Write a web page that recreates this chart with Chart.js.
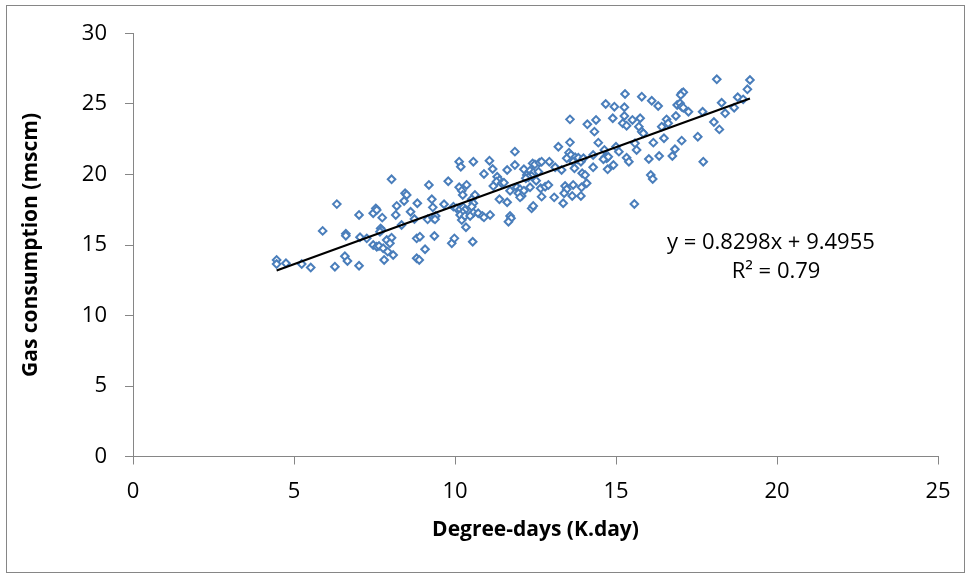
<!DOCTYPE html>
<html>
<head>
<meta charset="utf-8">
<script src="https://cdn.jsdelivr.net/npm/chart.js@4.4.1/dist/chart.umd.min.js"></script>
<style>
  html, body { margin: 0; padding: 0; background: #fff; }
  canvas { display: block; }
</style>
</head>
<body>
<canvas id="chart" width="971" height="578"></canvas>
<script>
// degree-days (K.day) of each observed day
const degreeDays = [
  4.46, 4.46, 4.75, 5.24, 5.52, 5.89, 6.27, 6.33, 6.58, 6.61, 6.61, 6.66,
  8.03, 9.19, 9.79, 8.45, 8.50, 8.42, 8.19, 8.83, 9.28, 9.31, 9.66, 7.02,
  7.46, 7.54, 7.57, 7.74, 8.16, 8.62, 8.74, 9.15, 9.33, 9.40, 9.38, 7.69,
  7.72, 7.67, 8.34, 7.05, 7.26, 7.46, 7.57, 7.64, 7.77, 7.88, 8.03, 7.98,
  7.91, 8.08, 7.80, 7.02, 8.81, 8.91, 9.36, 9.07, 8.81, 8.89, 9.90, 9.98,
  11.86, 10.13, 10.18, 10.57, 11.07, 11.17, 10.90, 11.62, 11.86, 12.14, 12.41, 12.48,
  12.62, 12.69, 12.93, 12.33, 12.43, 12.59, 12.23, 12.38, 12.28, 12.20, 12.52, 11.31,
  11.38, 11.29, 11.45, 11.52, 11.19, 11.71, 11.92, 12.02, 12.14, 12.33, 12.66, 12.80,
  12.90, 11.97, 12.07, 12.02, 12.69, 11.38, 11.62, 12.38, 12.43, 10.13, 10.21, 10.24,
  10.36, 10.62, 10.52, 10.57, 9.95, 10.05, 10.16, 10.26, 10.31, 10.24, 10.16, 10.21,
  10.31, 10.52, 10.57, 10.47, 10.72, 10.85, 10.90, 11.09, 11.71, 11.74, 11.66, 10.34,
  10.55,
  15.28, 15.80, 14.68, 14.95, 15.26, 15.26, 14.90, 15.21, 15.33, 15.51, 15.75, 15.71,
  15.80, 15.85, 13.57, 14.11, 14.38, 14.33, 13.57, 13.21, 14.45, 13.54, 13.60, 13.47,
  13.73, 13.80, 13.83, 13.67, 13.91, 13.99, 14.29, 14.64, 14.66, 14.71, 14.61, 14.76,
  15.00, 15.09, 15.33, 15.40, 15.59, 15.64, 14.29, 14.74, 14.92, 13.11, 13.31, 13.71,
  13.95, 14.04, 13.42, 13.47, 13.39, 13.67, 13.93, 14.09, 13.91, 13.64, 13.08, 13.36,
  15.57,
  18.13, 19.16, 19.08, 17.04, 17.09, 17.01, 16.11, 16.31, 16.90, 16.99, 17.04, 17.09,
  17.25, 16.86, 17.69, 18.28, 18.39, 18.04, 18.21, 18.67, 18.78, 18.95, 16.57, 16.62,
  16.42, 16.16, 16.49, 17.04, 17.54, 16.83, 16.75, 16.34, 16.02, 17.71, 16.08, 16.14
];

// gas consumption (mscm) for the same days
const gasUse = [
  13.94, 13.65, 13.70, 13.65, 13.40, 16.00, 13.46, 17.90, 14.20, 15.80, 15.66, 13.87,
  19.66, 19.26, 19.52, 18.67, 18.55, 18.12, 17.77, 17.96, 18.24, 17.67, 17.89, 17.13,
  17.25, 17.60, 17.48, 16.94, 17.13, 17.36, 16.84, 16.82, 16.89, 17.06, 16.82, 16.18,
  16.06, 15.94, 16.42, 15.55, 15.47, 15.00, 14.88, 14.93, 14.77, 15.35, 15.52, 15.12,
  14.53, 14.29, 13.94, 13.53, 15.47, 15.59, 15.64, 14.70, 14.06, 13.94, 15.12, 15.47,
  21.62, 20.91, 20.55, 20.91, 20.98, 20.39, 20.04, 20.32, 20.67, 20.37, 20.79, 20.72,
  20.84, 20.91, 20.91, 20.27, 20.13, 20.20, 19.96, 19.89, 19.80, 19.73, 19.56, 19.84,
  19.61, 19.49, 19.38, 19.42, 19.18, 18.85, 19.09, 18.95, 18.85, 19.09, 19.02, 19.13,
  19.25, 18.67, 18.48, 18.38, 18.43, 18.24, 18.03, 17.60, 17.77, 19.09, 18.85, 18.55,
  19.26, 18.55, 18.24, 17.96, 17.72, 17.60, 17.53, 17.67, 17.48, 17.29, 17.13, 16.77,
  17.06, 17.72, 17.29, 17.06, 17.25, 17.06, 16.96, 17.13, 17.06, 16.90, 16.65, 16.26,
  15.23,
  25.71, 25.52, 25.00, 24.81, 24.77, 24.15, 23.99, 23.63, 23.46, 23.87, 23.99, 23.39,
  23.04, 22.92, 23.91, 23.56, 23.87, 23.04, 22.28, 21.97, 22.26, 21.55, 21.38, 21.15,
  21.22, 21.08, 21.19, 20.91, 20.91, 21.15, 21.38, 21.74, 21.22, 21.15, 21.08, 21.26,
  21.97, 21.62, 21.19, 20.91, 22.21, 21.74, 20.51, 20.37, 20.67, 20.51, 20.32, 20.44,
  20.09, 19.96, 19.18, 18.95, 18.67, 19.26, 19.09, 19.38, 18.48, 18.48, 18.38, 17.96,
  17.91,
  26.75, 26.70, 26.04, 25.76, 25.83, 25.64, 25.23, 24.86, 24.93, 25.05, 24.81, 24.74,
  24.45, 24.15, 24.45, 25.09, 24.34, 23.72, 23.20, 24.74, 25.48, 25.33, 23.91, 23.63,
  23.39, 22.26, 22.57, 22.40, 22.68, 21.79, 21.31, 21.31, 21.10, 20.91, 19.96, 19.68
];

// Excel linear trendline shown on the chart
const slope = 0.8298;
const intercept = 9.4955;
const rSquared = 0.79;

const xTicks = [0, 5, 10, 15, 20, 25];
const yTicks = [0, 5, 10, 15, 20, 25, 30];

const points = degreeDays.map((d, i) => ({ x: d, y: gasUse[i] }));
const xMin = Math.min(...degreeDays);
const xMax = Math.max(...degreeDays);
const trend = [xMin, xMax].map(v => ({ x: v, y: slope * v + intercept }));

const font = '"Open Sans", "Liberation Sans", sans-serif';
const axisGray = '#868686';

// frame round the whole chart + equation text
const extras = {
  id: 'extras',
  afterDraw(chart) {
    const { ctx, scales: { x, y } } = chart;
    ctx.save();
    ctx.strokeStyle = axisGray;
    ctx.lineWidth = 1;
    ctx.strokeRect(6.5, 5.5, 958, 567);
    ctx.fillStyle = '#000';
    ctx.font = '22px ' + font;
    ctx.textAlign = 'center';
    ctx.textBaseline = 'middle';
    ctx.fillText('y = ' + slope + 'x + ' + intercept, x.getPixelForValue(19.81), y.getPixelForValue(15.14));
    ctx.fillText('R² = ' + rSquared, x.getPixelForValue(19.97), y.getPixelForValue(13.08));
    ctx.restore();
  }
};

const ctx = document.getElementById('chart').getContext('2d');

new Chart(ctx, {
  type: 'scatter',
  data: {
    datasets: [
      {
        label: 'Linear trend',
        data: trend,
        showLine: true,
        borderColor: '#000',
        borderWidth: 2.2,
        pointRadius: 0
      },
      {
        label: 'Gas consumption',
        data: points,
        pointStyle: 'rectRot',
        pointRadius: 3.8,
        borderWidth: 2,
        borderColor: '#4a7ebb',
        backgroundColor: '#fff'
      }
    ]
  },
  options: {
    responsive: false,
    animation: false,
    devicePixelRatio: 1,
    layout: { padding: { left: 18, top: 33.5, right: 33, bottom: 35.5 } },
    plugins: { legend: { display: false }, tooltip: { enabled: false } },
    scales: {
      x: {
        type: 'linear',
        min: xTicks[0],
        max: xTicks[xTicks.length - 1],
        afterBuildTicks: s => { s.ticks = xTicks.map(v => ({ value: v })); },
        afterFit: s => { s.height = 86; },
        ticks: { color: '#000', font: { family: font, size: 22 }, padding: 14 },
        grid: { drawOnChartArea: false, drawTicks: true, tickLength: 8, color: axisGray },
        border: { color: axisGray },
        title: {
          display: true,
          text: 'Degree-days (K.day)',
          color: '#000',
          font: { family: font, size: 21, weight: 'bold' },
          padding: 0
        }
      },
      y: {
        type: 'linear',
        min: yTicks[0],
        max: yTicks[yTicks.length - 1],
        afterBuildTicks: s => { s.ticks = yTicks.map(v => ({ value: v })); },
        afterFit: s => { s.width = 115; },
        ticks: { color: '#000', font: { family: font, size: 22 }, padding: 18 },
        grid: { drawOnChartArea: false, drawTicks: true, tickLength: 8, color: axisGray },
        border: { color: axisGray },
        title: {
          display: true,
          text: 'Gas consumption (mscm)',
          color: '#000',
          font: { family: font, size: 21, weight: 'bold' },
          padding: 0
        }
      }
    }
  },
  plugins: [extras]
});
</script>
</body>
</html>
